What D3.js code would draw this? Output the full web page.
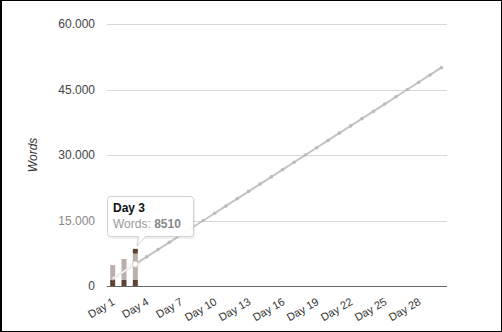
<!DOCTYPE html>
<html>
<head>
<meta charset="utf-8">
<script src="https://cdn.jsdelivr.net/npm/d3@7"></script>
<style>
  body { margin: 0; background: #fff; }
  svg { display: block; font-family: "Liberation Sans", Arial, sans-serif; }
</style>
</head>
<body>
<svg id="chart" width="502" height="332"></svg>
<script>
// categories
const days = ["Day 1", "Day 2", "Day 3", "Day 4", "Day 5", "Day 6", "Day 7", "Day 8", "Day 9", "Day 10",
              "Day 11", "Day 12", "Day 13", "Day 14", "Day 15", "Day 16", "Day 17", "Day 18", "Day 19", "Day 20",
              "Day 21", "Day 22", "Day 23", "Day 24", "Day 25", "Day 26", "Day 27", "Day 28", "Day 29", "Day 30"];

// target line (words expected by each day)
const targetWords = [1667, 3333, 5000, 6667, 8333, 10000, 11667, 13333, 15000, 16667,
                     18333, 20000, 21667, 23333, 25000, 26667, 28333, 30000, 31667, 33333,
                     35000, 36667, 38333, 40000, 41667, 43333, 45000, 46667, 48333, 50000];

// written words, stacked bars
const barDays = ["Day 1", "Day 2", "Day 3"];
const baseWords = [1400, 1400, 1400];
const midWords = [3400, 4800, 6010];
const topWords = [0, 0, 1100];

const yTicks = [0, 15000, 30000, 45000, 60000];
const xLabels = ["Day 1", "Day 4", "Day 7", "Day 10", "Day 13", "Day 16", "Day 19", "Day 22", "Day 25", "Day 28"];

const hoverDay = "Day 3";
const hoverWords = 8510;

const svg = d3.select("#chart");
const fmt = d3.formatLocale({ decimal: ",", thousands: ".", grouping: [3], currency: ["", ""] }).format(",");

const x = d3.scaleBand().domain(days).range([107, 447]).padding(0);
const y = d3.scaleLinear().domain([0, 60000]).range([286, 24]);

// frame
svg.append("rect")
   .attr("x", 0.5).attr("y", 0.5)
   .attr("width", 501).attr("height", 331)
   .attr("fill", "#fff")
   .attr("stroke", "#000");
svg.append("line")
   .attr("x1", 1.5).attr("x2", 1.5).attr("y1", 0).attr("y2", 332)
   .attr("stroke", "#000");

// gridlines
svg.append("g")
   .selectAll("line")
   .data(yTicks.filter(d => d > 0))
   .enter()
   .append("line")
   .attr("x1", 107).attr("x2", 447)
   .attr("y1", d => Math.round(y(d)) + 0.5)
   .attr("y2", d => Math.round(y(d)) + 0.5)
   .attr("stroke", "#d8d8d8");

// y labels
svg.append("g")
   .selectAll("text")
   .data(yTicks)
   .enter()
   .append("text")
   .attr("x", 95)
   .attr("y", d => y(d) + 4)
   .attr("text-anchor", "end")
   .attr("font-size", "12px")
   .attr("fill", d => d === 15000 ? "#888" : "#444")
   .text(d => fmt(d));

// y title
svg.append("text")
   .attr("transform", "translate(37,155) rotate(-90)")
   .attr("text-anchor", "middle")
   .attr("font-size", "12px")
   .attr("font-style", "italic")
   .attr("fill", "#333")
   .text("Words");

// bars
const bw = 5;
const bars = svg.append("g");
barDays.forEach((d, i) => {
    const cx = x(d) + x.bandwidth() / 2;
    const segs = [
        { v0: 0, v1: baseWords[i], c: "#5e4334" },
        { v0: baseWords[i], v1: baseWords[i] + midWords[i], c: "#bcb0aa" },
        { v0: baseWords[i] + midWords[i], v1: baseWords[i] + midWords[i] + topWords[i], c: "#5e4334" }
    ];
    segs.filter(s => s.v1 > s.v0).forEach(s => {
        bars.append("rect")
            .attr("x", cx - bw / 2)
            .attr("y", y(s.v1))
            .attr("width", bw)
            .attr("height", y(s.v0) - y(s.v1))
            .attr("fill", s.c);
    });
});

// target line
const line = d3.line()
               .x((d, i) => x(days[i]) + x.bandwidth() / 2)
               .y(d => y(d));

svg.append("path")
   .datum(targetWords)
   .attr("fill", "none")
   .attr("stroke", "#c4c4c4")
   .attr("stroke-width", 2)
   .attr("d", line);

svg.append("g")
   .selectAll("circle")
   .data(targetWords)
   .enter()
   .append("circle")
   .attr("cx", (d, i) => x(days[i]) + x.bandwidth() / 2)
   .attr("cy", d => y(d))
   .attr("r", 1.8)
   .attr("fill", "#bbb");

// hover highlight of the first part of the line
svg.append("path")
   .datum(targetWords.slice(0, 3))
   .attr("fill", "none")
   .attr("stroke", "#fff")
   .attr("stroke-width", 1.5)
   .attr("opacity", 0.9)
   .attr("d", line);

const hi = days.indexOf(hoverDay);
svg.append("circle")
   .attr("cx", x(hoverDay) + x.bandwidth() / 2)
   .attr("cy", y(targetWords[hi]))
   .attr("r", 3)
   .attr("fill", "#fff")
   .attr("stroke", "#ccc");

// x axis
svg.append("line")
   .attr("x1", 107).attr("x2", 447)
   .attr("y1", 286.5).attr("y2", 286.5)
   .attr("stroke", "#666");

svg.append("g")
   .selectAll("text")
   .data(xLabels)
   .enter()
   .append("text")
   .attr("transform", d => `translate(${x(d) + x.bandwidth() / 2 + 3},304) rotate(-30)`)
   .attr("text-anchor", "end")
   .attr("font-size", "11px")
   .attr("fill", "#333")
   .text(d => d);

// tooltip
const tip = svg.append("g");
tip.append("rect")
   .attr("x", 109).attr("y", 198)
   .attr("width", 86).attr("height", 41)
   .attr("rx", 3)
   .attr("fill", "#000")
   .attr("opacity", 0.06);
tip.append("path")
   .attr("d", "M107.5,199.5 Q107.5,196.5 110.5,196.5 L190.5,196.5 Q193.5,196.5 193.5,199.5 L193.5,233.5 Q193.5,236.5 190.5,236.5 L145.5,236.5 L137,246 L138.5,236.5 L110.5,236.5 Q107.5,236.5 107.5,233.5 Z")
   .attr("fill", "#fff")
   .attr("fill-opacity", 0.95)
   .attr("stroke", "#d0d0d0");
tip.append("text")
   .attr("x", 113).attr("y", 212)
   .attr("font-size", "12px")
   .attr("font-weight", "bold")
   .attr("fill", "#111")
   .text(hoverDay);
const t2 = tip.append("text")
   .attr("x", 113).attr("y", 228)
   .attr("font-size", "12px")
   .attr("fill", "#999");
t2.append("tspan").text("Words: ");
t2.append("tspan").attr("font-weight", "bold").attr("fill", "#888").text(hoverWords);
</script>
</body>
</html>
